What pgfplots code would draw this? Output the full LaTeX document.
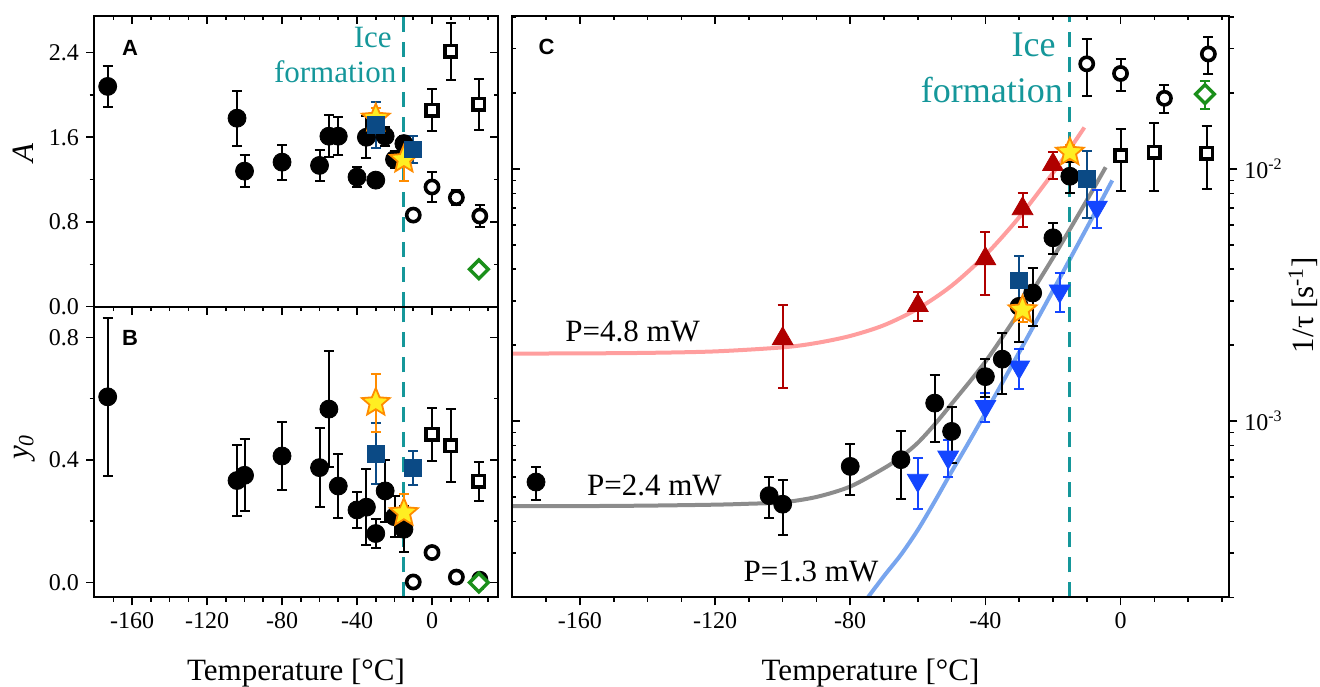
\documentclass[border=0pt]{standalone}
\usepackage{pgfplots}
\pgfplotsset{compat=1.18}
\usepackage{fontspec}
\setmainfont{Liberation Serif}
\newfontfamily\panelfont{Liberation Sans}

\definecolor{iceteal}{HTML}{15979A}
\definecolor{darkred}{HTML}{B00000}
\definecolor{fitred}{HTML}{FF9E9E}
\definecolor{fitgray}{HTML}{8C8C8C}
\definecolor{fitblue}{HTML}{78A5EE}
\definecolor{brightblue}{HTML}{1446FF}
\definecolor{navy}{HTML}{0B4A85}
\definecolor{starfill}{HTML}{FFEE22}
\definecolor{starline}{HTML}{FF8C00}
\definecolor{diagreen}{HTML}{1A8F1A}

\newcommand\lbl{\rmfamily\fontsize{15.5}{18}\selectfont}

% filled five-pointed star
\pgfdeclareplotmark{fstar}{%
  \pgfpathmoveto{\pgfpointpolar{90}{\pgfplotmarksize}}%
  \pgfpathlineto{\pgfpointpolar{126}{0.45\pgfplotmarksize}}%
  \pgfpathlineto{\pgfpointpolar{162}{\pgfplotmarksize}}%
  \pgfpathlineto{\pgfpointpolar{198}{0.45\pgfplotmarksize}}%
  \pgfpathlineto{\pgfpointpolar{234}{\pgfplotmarksize}}%
  \pgfpathlineto{\pgfpointpolar{270}{0.45\pgfplotmarksize}}%
  \pgfpathlineto{\pgfpointpolar{306}{\pgfplotmarksize}}%
  \pgfpathlineto{\pgfpointpolar{342}{0.45\pgfplotmarksize}}%
  \pgfpathlineto{\pgfpointpolar{18}{\pgfplotmarksize}}%
  \pgfpathlineto{\pgfpointpolar{54}{0.45\pgfplotmarksize}}%
  \pgfpathclose
  \pgfusepathqfillstroke}

\pgfplotsset{
  panel/.style={scale only axis, axis line style={line width=0.9pt},
    major tick length=4pt, minor tick length=2.2pt,
    every tick/.append style={line width=0.8pt, black},
    tick label style={font=\rmfamily\fontsize{12}{14}\selectfont},
    /pgf/number format/assume math mode=true},
  eb/.style={error bars/.cd, y dir=both, y explicit,
    error bar style={line width=1pt},
    error mark options={rotate=90, mark size=2.5pt, line width=1pt}},
  fcirc/.style={only marks, black, mark=*, mark size=4.5pt, eb},
  ocirc/.style={only marks, black, mark=*, mark size=3.3pt,
    mark options={fill=white, line width=1.8pt}, eb},
  osq/.style={only marks, black, mark=square*, mark size=2.9pt,
    mark options={fill=white, line width=1.8pt}, eb},
  bsq/.style={only marks, navy, mark=square*, mark size=4.2pt, eb},
  star/.style={only marks, starline, mark=fstar, mark size=7.3pt,
    mark options={fill=starfill, line width=0.9pt}, eb},
  diam/.style={only marks, diagreen, mark=square*, mark size=3.3pt,
    mark options={rotate=45, fill=white, line width=1.7pt}, eb},
  rtri/.style={only marks, darkred, mark=triangle*, mark size=6pt, eb},
  btri/.style={only marks, brightblue, mark=triangle*, mark size=6pt,
    mark options={rotate=180}, eb},
  ice/.style={iceteal, line width=1.4pt, dash pattern=on 7.5pt off 5pt},
  abx/.style={xmin=-180.3, xmax=35.2, xtick={-160,-120,-80,-40,0},
    minor xtick={-170,-150,-140,-130,-110,-100,-90,-70,-60,-50,-30,-20,-10,10,20,30}},
  posA/.style={at={(47pt,189.65pt)}, anchor=south west, width=202pt, height=145.35pt,
    abx, ymin=0, ymax=2.745, ytick={0,0.8,1.6,2.4}, minor ytick={0.4,1.2,2.0}},
  posB/.style={at={(47pt,44.35pt)}, anchor=south west, width=202pt, height=145.3pt,
    abx, ymin=-0.048, ymax=0.9, ytick={0,0.4,0.8}, minor ytick={0.2,0.6}},
  posC/.style={at={(255.85pt,44.35pt)}, anchor=south west, width=358.8pt, height=290.8pt,
    xmin=-180.2, xmax=32.2, ymin=2e-4, ymax=0.0405,
    xtick={-160,-120,-80,-40,0},
    minor xtick={-170,-150,-140,-130,-110,-100,-90,-70,-60,-50,-30,-20,-10,10,20,30},
    ytick={1e-3,1e-2},
    minor ytick={2e-4,3e-4,4e-4,5e-4,6e-4,7e-4,8e-4,9e-4,2e-3,3e-3,4e-3,5e-3,6e-3,7e-3,8e-3,9e-3,2e-2,3e-2,4e-2}},
}

\begin{document}
\begin{tikzpicture}
\path[use as bounding box] (0,0) rectangle (660pt,343pt);

% ---------------- panel A
\begin{axis}[panel, posA, xtick pos=lower, ytick pos=left, tick align=outside,
  xticklabels={},
  yticklabel style={/pgf/number format/.cd, fixed, fixed zerofill, precision=1}]
\addplot[ice] coordinates {(-15,0) (-15,2.745)};
\addplot[fcirc] coordinates {
 (-173,2.08) +- (0,0.19) (-104,1.78) +- (0,0.26) (-100,1.28) +- (0,0.15)
 (-80,1.365) +- (0,0.165) (-60,1.334) +- (0,0.15) (-55,1.61) +- (0,0.2)
 (-50,1.61) +- (0,0.18) (-40,1.224) +- (0,0.095) (-35,1.60) +- (0,0.2)
 (-30,1.195) +- (0,0.04) (-25,1.61) +- (0,0.09) (-20,1.39) +- (0,0.08)
 (-15,1.54) +- (0,0.07)};
\addplot[star] coordinates {(-30,1.78) +- (0,0.1) (-15,1.39) +- (0,0.2)};
\addplot[bsq] coordinates {(-30,1.714) +- (0,0.22) (-10,1.485) +- (0,0.13)};
\addplot[ocirc] coordinates {(-10,0.865) +- (0,0.05) (0,1.13) +- (0,0.14)
 (13,1.03) +- (0,0.07) (25.5,0.856) +- (0,0.1)};
\addplot[osq] coordinates {(0,1.856) +- (0,0.2) (10,2.41) +- (0,0.27) (25,1.91) +- (0,0.24)};
\addplot[diam] coordinates {(25,0.353) +- (0,0.02)};
\end{axis}
\begin{axis}[panel, posA, xtick pos=upper, ytick pos=right, tick align=inside,
  xticklabels={}, yticklabels={}]
\end{axis}

% ---------------- panel B
\begin{axis}[panel, posB, xtick pos=lower, ytick pos=left, tick align=outside,
  yticklabel style={/pgf/number format/.cd, fixed, fixed zerofill, precision=1}]
\addplot[ice] coordinates {(-15,-0.048) (-15,0.9)};
\addplot[fcirc] coordinates {
 (-173,0.606) +- (0,0.257) (-104,0.333) +- (0,0.116) (-100,0.35) +- (0,0.117)
 (-80,0.413) +- (0,0.11) (-60,0.375) +- (0,0.13) (-55,0.566) +- (0,0.19)
 (-50,0.315) +- (0,0.105) (-40,0.237) +- (0,0.058) (-35,0.246) +- (0,0.125)
 (-30,0.16) +- (0,0.046) (-25,0.299) +- (0,0.1) (-20,0.215) +- (0,0.067)
 (-15,0.174) +- (0,0.075)};
\addplot[bsq] coordinates {(-30,0.42) +- (0,0.1) (-10,0.373) +- (0,0.056)};
\addplot[star] coordinates {(-30,0.587) +- (0,0.095) (-15,0.228) +- (0,0.06)};
\addplot[ocirc] coordinates {(-10,0.002) +- (0,0.012) (0,0.098) +- (0,0.012)
 (13,0.018) +- (0,0.012) (25.5,0.011) +- (0,0.012)};
\addplot[osq] coordinates {(0,0.484) +- (0,0.087) (10,0.447) +- (0,0.12) (25,0.33) +- (0,0.063)};
\addplot[diam] coordinates {(25,0.0) +- (0,0.02)};
\end{axis}
\begin{axis}[panel, posB, xtick pos=upper, ytick pos=right, tick align=inside,
  xticklabels={}, yticklabels={}]
\end{axis}

% ---------------- panel C
\begin{semilogyaxis}[panel, posC, xtick pos=lower, ytick pos=right, yticklabel pos=right,
  tick align=outside, yticklabels={10\textsuperscript{-3},10\textsuperscript{-2}}]
\addplot[fitred, line width=2pt, smooth] coordinates {
 (-180.5,1.852e-3) (-160,1.855e-3) (-140,1.864e-3) (-120,1.889e-3) (-100,1.96e-3)
 (-90,2.04e-3) (-80,2.175e-3) (-70,2.40e-3) (-60,2.79e-3) (-50,3.44e-3)
 (-40,4.55e-3) (-30,6.43e-3) (-20,9.64e-3) (-15,1.2e-2) (-10.7,1.46e-2)};
\addplot[fitgray, line width=2pt, smooth] coordinates {
 (-180.5,4.6e-4) (-160,4.6e-4) (-140,4.62e-4) (-120,4.66e-4) (-110,4.7e-4)
 (-100,4.76e-4) (-90,5.0e-4) (-80,5.5e-4) (-70,6.5e-4) (-65,7.2e-4)
 (-60,8.2e-4) (-55,9.7e-4) (-50,1.17e-3) (-40,1.72e-3) (-30,2.71e-3)
 (-20,4.44e-3) (-10,7.5e-3) (-4.4,1.015e-2)};
\addplot[fitblue, line width=2pt, smooth] coordinates {
 (-76,1.9e-4) (-70,2.43e-4) (-65,2.95e-4) (-60,3.7e-4) (-55,4.8e-4)
 (-50,6.3e-4) (-45,8.2e-4) (-40,1.077e-3) (-35,1.418e-3) (-30,1.873e-3)
 (-25,2.48e-3) (-20,3.29e-3) (-15,4.38e-3) (-10,5.83e-3) (-5,7.77e-3) (-2.45,9.0e-3)};
\addplot[ice] coordinates {(-15,2e-4) (-15,0.0405)};
\addplot[rtri] coordinates {
 (-100,2.12e-3) +- (0,0.77e-3) (-60,2.87e-3) +- (0,0.38e-3) (-40,4.4e-3) +- (0,1.24e-3)
 (-29,6.95e-3) +- (0,1.05e-3) (-20,1.04e-2) +- (0,0.13e-2)};
\addplot[btri] coordinates {
 (-60,5.82e-4) +- (0,1.34e-4) (-51,7.2e-4) +- (0,1.2e-4) (-40,1.143e-3) +- (0,0.15e-3)
 (-30,1.637e-3) +- (0,0.3e-3) (-18,3.28e-3) +- (0,0.57e-3) (-7,7.05e-3) +- (0,1.2e-3)};
\addplot[fcirc] coordinates {
 (-173,5.73e-4) +- (0,0.85e-4) (-104,5.06e-4) +- (0,0.93e-4) (-100,4.68e-4) +- (0,1.15e-4)
 (-80,6.61e-4) +- (0,1.5e-4) (-65,7.03e-4) +- (0,2.1e-4) (-55,1.178e-3) +- (0,0.35e-3)
 (-50,9.1e-4) +- (0,2.3e-4) (-40,1.50e-3) +- (0,0.26e-3) (-35,1.76e-3) +- (0,0.48e-3)
 (-30,2.85e-3) +- (0,0.8e-3) (-26,3.22e-3) +- (0,0.83e-3) (-20,5.33e-3) +- (0,0.75e-3)
 (-15,9.35e-3) +- (0,1.3e-3)};
\addplot[bsq] coordinates {(-30,3.61e-3) +- (0,0.92e-3) (-10,9.1e-3) +- (0,2.7e-3)};
\addplot[star] coordinates {(-29,2.76e-3) +- (0,0.3e-3) (-15,1.164e-2) +- (0,0.08e-2)};
\addplot[ocirc] coordinates {(-10,2.61e-2) +- (0,0.67e-2) (0,2.39e-2) +- (0,0.35e-2)
 (13,1.905e-2) +- (0,0.24e-2) (26,2.855e-2) +- (0,0.48e-2)};
\addplot[osq] coordinates {(0,1.13e-2) +- (0,0.31e-2) (10,1.164e-2) +- (0,0.35e-2)
 (25.5,1.153e-2) +- (0,0.32e-2)};
\addplot[diam] coordinates {(25,1.98e-2) +- (0,0.25e-2)};
\end{semilogyaxis}
\begin{semilogyaxis}[panel, posC, xtick pos=upper, ytick pos=left, tick align=inside,
  xticklabels={}, yticklabels={}]
\end{semilogyaxis}

% ---------------- labels
\node[anchor=base, font=\lbl] at (148pt,3pt) {Temperature [°C]};
\node[anchor=base, font=\lbl] at (435.25pt,3pt) {Temperature [°C]};
\node[rotate=90, font=\lbl\itshape] at (11.5pt,266.5pt) {A};
\node[rotate=90, font=\lbl] at (12.5pt,119.5pt) {\textit{y}\textsubscript{\textit{0}}};
\node[rotate=90, font=\lbl] at (651.5pt,190.5pt) {1/τ [s\textsuperscript{-1}]};

\node[font=\panelfont\bfseries\fontsize{11}{13}\selectfont] at (65pt,319pt) {A};
\node[font=\panelfont\bfseries\fontsize{11}{13}\selectfont] at (65pt,173.85pt) {B};
\node[font=\panelfont\bfseries\fontsize{11}{13}\selectfont] at (273.3pt,319.7pt) {C};

\node[text=iceteal, anchor=base east, inner sep=0pt, font=\lbl] at (196pt,319.15pt) {Ice};
\node[text=iceteal, anchor=base east, inner sep=0pt, font=\lbl] at (198.35pt,301.5pt) {formation};
\node[text=iceteal, anchor=base east, inner sep=0pt, font=\rmfamily\fontsize{18}{21}\selectfont] at (528pt,314.65pt) {Ice};
\node[text=iceteal, anchor=base east, inner sep=0pt, font=\rmfamily\fontsize{18}{21}\selectfont] at (531.65pt,291.5pt) {formation};

\node[anchor=base west, inner sep=0pt, font=\lbl] at (282.5pt,172pt) {P=4.8 mW};
\node[anchor=base west, inner sep=0pt, font=\lbl] at (293.35pt,95.5pt) {P=2.4 mW};
\node[anchor=base west, inner sep=0pt, font=\lbl] at (371.65pt,52.15pt) {P=1.3 mW};
\end{tikzpicture}
\end{document}
